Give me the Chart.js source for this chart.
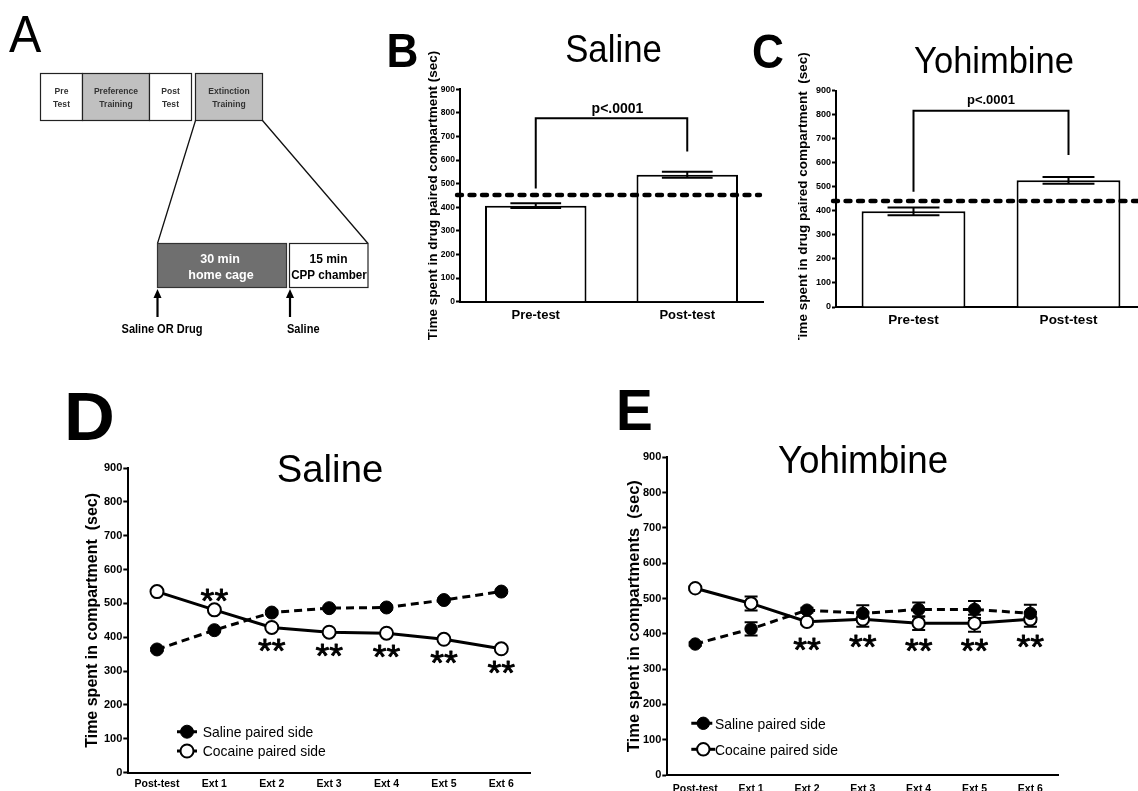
<!DOCTYPE html>
<html>
<head>
<meta charset="utf-8">
<script src="https://cdn.jsdelivr.net/npm/chart.js@4.4.1/dist/chart.umd.min.js"></script>
<style>
  html, body { margin: 0; padding: 0; background: #fff; overflow: hidden; width: 1138px; height: 791px; }
  canvas { position: absolute; }
</style>
</head>
<body>
<canvas id="bg" width="1138" height="791" style="left:0;top:0"></canvas>
<canvas id="chartB" width="390" height="340" style="left:380px;top:0"></canvas>
<canvas id="chartC" width="400" height="340" style="left:760px;top:0"></canvas>
<canvas id="chartD" width="480" height="351" style="left:60px;top:440px"></canvas>
<canvas id="chartE" width="480" height="351" style="left:590px;top:440px"></canvas>
<script>
// ---- data ----
const testLabels = ['Pre-test', 'Post-test'];

// B: saline group, time in drug-paired compartment
const salineTestMeans = [407, 538];
const salineTestSem = [10, 13];
const salineChance = 452;
const salineBracket = [777, 480, 636];   // bar height, left leg end, right leg end

// C: yohimbine group
const yohTestMeans = [398, 527];
const yohTestSem = [16, 14];
const yohChance = 441;
const yohBracket = [817, 480, 632];

const pLabel = 'p<.0001';

// D / E: extinction sessions
const sessionLabels = ['Post-test', 'Ext 1', 'Ext 2', 'Ext 3', 'Ext 4', 'Ext 5', 'Ext 6'];

const salGrpSalineSide  = [364, 421, 473, 486, 488, 510, 535];
const salGrpCocaineSide = [535, 481, 429, 415, 412, 394, 366];
const salGrpSalineSem   = [4, 5, 5, 4, 5, 5, 4];
const salGrpCocaineSem  = [4, 5, 5, 4, 5, 5, 4];
const salGrpStars = ['', 'above', 'below', 'below', 'below', 'below', 'below'];

const yohGrpSalineSide  = [371, 414, 467, 458, 469, 469, 458];
const yohGrpCocaineSide = [529, 486, 434, 441, 430, 430, 441];
const yohGrpSalineSem   = [5, 19, 7, 23, 20, 24, 24];
const yohGrpCocaineSem  = [5, 20, 7, 21, 19, 24, 21];
const yohGrpStars = ['', '', 'below', 'below', 'below', 'below', 'below'];

const seriesNames = ['Saline paired side', 'Cocaine paired side'];

// ---- helpers ----
const FONT = "'Liberation Sans', Arial, Helvetica, sans-serif";

function text(ctx, s, x, y, size, o = {}) {
  const { bold = false, align = 'left', sx = 1, color = '#000', baseline = 'alphabetic', stroke = 0 } = o;
  ctx.save();
  ctx.font = (bold ? 'bold ' : '') + size + 'px ' + FONT;
  ctx.fillStyle = color;
  ctx.textAlign = align;
  ctx.textBaseline = baseline;
  ctx.translate(x, y);
  ctx.scale(sx, 1);
  ctx.fillText(s, 0, 0);
  if (stroke) {
    ctx.strokeStyle = color;
    ctx.lineWidth = stroke;
    ctx.lineJoin = 'round';
    ctx.strokeText(s, 0, 0);
  }
  ctx.restore();
}

// ---- background: protocol diagram, panel letters, panel titles ----
(function drawBackground() {
  const ctx = document.getElementById('bg').getContext('2d');
  ctx.fillStyle = '#fff';
  ctx.fillRect(0, 0, 1138, 791);

  // protocol timeline
  const rowTop = 73.5, rowBot = 120.5;
  const stages = [
    { x0: 40.5,  x1: 82.5,  fill: '#fff',    lines: ['Pre', 'Test'] },
    { x0: 82.5,  x1: 149.5, fill: '#c0c0c0', lines: ['Preference', 'Training'] },
    { x0: 149.5, x1: 191.5, fill: '#fff',    lines: ['Post', 'Test'] },
    { x0: 195.5, x1: 262.5, fill: '#c0c0c0', lines: ['Extinction', 'Training'] }
  ];
  ctx.lineWidth = 1.2;
  ctx.strokeStyle = '#222';
  stages.forEach(s => {
    ctx.fillStyle = s.fill;
    ctx.fillRect(s.x0, rowTop, s.x1 - s.x0, rowBot - rowTop);
    ctx.strokeRect(s.x0, rowTop, s.x1 - s.x0, rowBot - rowTop);
    const cx = (s.x0 + s.x1) / 2;
    text(ctx, s.lines[0], cx, 94, 9, { bold: true, align: 'center', color: '#333', sx: 0.95 });
    text(ctx, s.lines[1], cx, 106.5, 9, { bold: true, align: 'center', color: '#333', sx: 0.95 });
  });

  // zoom-in lines to the extinction session detail
  ctx.beginPath();
  ctx.moveTo(195.5, rowBot); ctx.lineTo(157.5, 243.5);
  ctx.moveTo(262.5, rowBot); ctx.lineTo(368, 243.5);
  ctx.lineWidth = 1.3;
  ctx.strokeStyle = '#111';
  ctx.stroke();

  // session detail boxes
  ctx.fillStyle = '#6f6f6f';
  ctx.fillRect(157.5, 243.5, 129, 44);
  ctx.lineWidth = 1.2;
  ctx.strokeStyle = '#333';
  ctx.strokeRect(157.5, 243.5, 129, 44);
  text(ctx, '30 min', 220, 262.5, 12.5, { bold: true, align: 'center', color: '#fff' });
  text(ctx, 'home cage', 221, 278.5, 12.5, { bold: true, align: 'center', color: '#fff' });

  ctx.fillStyle = '#fff';
  ctx.fillRect(289.5, 243.5, 78.5, 44);
  ctx.strokeStyle = '#222';
  ctx.strokeRect(289.5, 243.5, 78.5, 44);
  text(ctx, '15 min', 328.5, 262.5, 12, { bold: true, align: 'center' });
  text(ctx, 'CPP chamber', 329, 278.5, 12, { bold: true, align: 'center', sx: 0.97 });

  // injection arrows
  [157.5, 290].forEach(x => {
    ctx.beginPath();
    ctx.moveTo(x, 317); ctx.lineTo(x, 295);
    ctx.lineWidth = 2.2; ctx.strokeStyle = '#000'; ctx.stroke();
    ctx.beginPath();
    ctx.moveTo(x, 289); ctx.lineTo(x - 4, 298); ctx.lineTo(x + 4, 298); ctx.closePath();
    ctx.fillStyle = '#000'; ctx.fill();
  });
  text(ctx, 'Saline OR Drug', 162, 333, 12, { bold: true, align: 'center', sx: 0.92 });
  text(ctx, 'Saline', 287, 333, 12, { bold: true, sx: 0.92 });

  // panel letters
  text(ctx, 'A', 9, 51.7, 51, { sx: 0.95 });
  text(ctx, 'B', 386.5, 66.7, 48, { bold: true, sx: 0.92 });
  text(ctx, 'C', 752, 68.3, 48, { bold: true, sx: 0.92 });
  text(ctx, 'D', 64, 440, 69, { bold: true, sx: 1.02 });
  text(ctx, 'E', 616, 430, 58, { bold: true, sx: 0.95 });

  // panel titles
  text(ctx, 'Saline', 613.5, 61.7, 39.5, { align: 'center', sx: 0.88 });
  text(ctx, 'Yohimbine', 994, 72.7, 36.3, { align: 'center', sx: 0.95 });
  text(ctx, 'Saline', 330, 481.7, 39.5, { align: 'center', sx: 0.97 });
  text(ctx, 'Yohimbine', 863, 473.3, 39.5, { align: 'center', sx: 0.93 });
})();

// ---- shared axis styling ----
function yAxis(title, tickSize, titleSize, width, tickLen) {
  return {
    min: 0, max: 900,
    ticks: { stepSize: 100, color: '#000', padding: 1, font: { family: FONT, size: tickSize, weight: 'bold' } },
    grid: { drawOnChartArea: false, tickLength: tickLen, tickColor: '#000', tickWidth: 2 },
    border: { color: '#000', width: 2 },
    title: { display: true, text: title, color: '#000', padding: 0, font: { family: FONT, size: titleSize, weight: 'bold' } },
    afterFit: s => { s.width = width; }
  };
}
function xAxis(fontSize, pad, height, offset) {
  return {
    offset: offset,
    grid: { display: false, drawTicks: false, tickLength: 0 },
    border: { color: '#000', width: 2 },
    ticks: { color: '#000', padding: pad, maxRotation: 0, autoSkip: false, font: { family: FONT, size: fontSize, weight: 'bold' } },
    afterFit: s => { s.height = height; }
  };
}

// ---- B / C: pre vs post test bars ----
function prePostChart(id, means, sem, chance, bracket, yTitle, geo) {
  const annotate = {
    id: 'prePostMarks',
    afterDatasetsDraw(chart) {
      const { ctx, chartArea, scales: { x, y } } = chart;
      const meta = chart.getDatasetMeta(0);
      ctx.save();
      // SEM bars
      ctx.strokeStyle = '#000';
      ctx.lineWidth = 2;
      means.forEach((m, i) => {
        const el = meta.data[i];
        const hw = el.width * 0.25;
        const t = y.getPixelForValue(m + sem[i]);
        const b = y.getPixelForValue(m - sem[i]);
        ctx.beginPath();
        ctx.moveTo(el.x, t); ctx.lineTo(el.x, b);
        ctx.moveTo(el.x - hw, t); ctx.lineTo(el.x + hw, t);
        ctx.moveTo(el.x - hw, b); ctx.lineTo(el.x + hw, b);
        ctx.stroke();
      });
      // chance level
      const cy = y.getPixelForValue(chance);
      ctx.beginPath();
      ctx.setLineDash([5, 7.5]);
      ctx.lineCap = 'round';
      ctx.lineWidth = 4.4;
      ctx.moveTo(chartArea.left - 3, cy);
      ctx.lineTo(chartArea.right - 3, cy);
      ctx.stroke();
      ctx.setLineDash([]);
      ctx.lineCap = 'butt';
      // significance bracket
      const xl = x.getPixelForValue(0), xr = x.getPixelForValue(1);
      const top = y.getPixelForValue(bracket[0]);
      ctx.lineWidth = 2;
      ctx.beginPath();
      ctx.moveTo(xl, y.getPixelForValue(bracket[1]));
      ctx.lineTo(xl, top);
      ctx.lineTo(xr, top);
      ctx.lineTo(xr, y.getPixelForValue(bracket[2]));
      ctx.stroke();
      text(ctx, pLabel, (xl + xr) / 2 + geo.pShift, top - geo.pGap, geo.pSize, { bold: true, align: 'center' });
      ctx.restore();
    }
  };
  return new Chart(document.getElementById(id), {
    type: 'bar',
    data: {
      labels: testLabels,
      datasets: [{
        data: means, backgroundColor: '#fff', borderColor: '#000', borderWidth: 2,
        barPercentage: 0.67, categoryPercentage: 1
      }]
    },
    options: {
      responsive: false, animation: false, devicePixelRatio: 1,
      layout: { padding: { left: geo.padLeft, top: geo.padTop, right: geo.padRight, bottom: 0 } },
      scales: {
        x: xAxis(geo.xFont, geo.xPad, geo.xHeight, true),
        y: yAxis(yTitle, geo.yFont, geo.titleFont, geo.yWidth, 4)
      },
      plugins: { legend: { display: false }, tooltip: { enabled: false } }
    },
    plugins: [annotate]
  });
}

prePostChart('chartB', salineTestMeans, salineTestSem, salineChance, salineBracket,
  'Time spent in drug paired compartment (sec)',
  { padLeft: 44.9, padTop: 89.3, padRight: 7, yWidth: 35.1, xHeight: 38.3, xFont: 13, xPad: 5.5,
    yFont: 8.5, titleFont: 13.5, pSize: 14, pGap: 5, pShift: 6 });

prePostChart('chartC', yohTestMeans, yohTestSem, yohChance, yohBracket,
  'Time spent in drug paired compartment  (sec)',
  { padLeft: 34.9, padTop: 90.7, padRight: 14, yWidth: 41.1, xHeight: 33, xFont: 13.5, xPad: 5.2,
    yFont: 9, titleFont: 13.5, pSize: 13, pGap: 7, pShift: 0 });

// ---- D / E: extinction time course ----
function sessionChart(id, salineSide, cocaineSide, salineSem, cocaineSem, stars, yTitle, geo) {
  const sems = [salineSem, cocaineSem];
  const marks = {
    id: 'sessionMarks',
    beforeDatasetsDraw(chart) {
      const { ctx, scales: { y } } = chart;
      ctx.save();
      ctx.strokeStyle = '#000';
      ctx.lineWidth = 2;
      chart.data.datasets.forEach((ds, d) => {
        const meta = chart.getDatasetMeta(d);
        ds.data.forEach((v, i) => {
          const px = meta.data[i].x;
          const t = y.getPixelForValue(v + sems[d][i]);
          const b = y.getPixelForValue(v - sems[d][i]);
          ctx.beginPath();
          ctx.moveTo(px, t); ctx.lineTo(px, b);
          ctx.moveTo(px - 6.5, t); ctx.lineTo(px + 6.5, t);
          ctx.moveTo(px - 6.5, b); ctx.lineTo(px + 6.5, b);
          ctx.stroke();
        });
      });
      ctx.restore();
    },
    afterDatasetsDraw(chart) {
      const { ctx, chartArea } = chart;
      const coc = chart.getDatasetMeta(1);
      ctx.save();
      // significance stars
      stars.forEach((where, i) => {
        if (!where) return;
        const p = coc.data[i];
        const cy = where === 'above' ? p.y - geo.starAbove : p.y + geo.starGap;
        text(ctx, '**', p.x, cy + 0.585 * 34, 34, { align: 'center', sx: 1.04, stroke: 0.9 });
      });
      // series key
      chart.data.datasets.forEach((ds, d) => {
        const mx = chartArea.left + geo.keyX;
        const my = chartArea.bottom - geo.keyRows[d];
        ctx.beginPath();
        ctx.setLineDash(ds.borderDash || []);
        ctx.lineWidth = 3;
        ctx.strokeStyle = '#000';
        ctx.moveTo(mx - geo.keyHalf, my);
        ctx.lineTo(mx + geo.keyHalf, my);
        ctx.stroke();
        ctx.setLineDash([]);
        ctx.beginPath();
        ctx.arc(mx, my, ds.pointRadius, 0, Math.PI * 2);
        ctx.fillStyle = ds.pointBackgroundColor;
        ctx.fill();
        ctx.lineWidth = ds.pointBorderWidth;
        ctx.stroke();
        text(ctx, ds.label, mx + geo.keyText, my + 5.2, 14.5, { sx: 0.96 });
      });
      ctx.restore();
    }
  };
  return new Chart(document.getElementById(id), {
    type: 'line',
    data: {
      labels: sessionLabels,
      datasets: [
        { label: seriesNames[0], data: salineSide, borderColor: '#000', borderWidth: 3, borderDash: [8, 5],
          pointRadius: geo.r, pointBackgroundColor: '#000', pointBorderColor: '#000', pointBorderWidth: 1,
          tension: 0, fill: false },
        { label: seriesNames[1], data: cocaineSide, borderColor: '#000', borderWidth: 3,
          pointRadius: geo.r, pointBackgroundColor: '#fff', pointBorderColor: '#000', pointBorderWidth: 2,
          tension: 0, fill: false }
      ]
    },
    options: {
      responsive: false, animation: false, devicePixelRatio: 1,
      layout: { padding: { left: geo.padLeft, top: geo.padTop, right: geo.padRight, bottom: 0 } },
      scales: {
        x: xAxis(10.5, geo.xPad, geo.xHeight, true),
        y: yAxis(yTitle, 11, geo.titleFont, geo.yWidth, 5)
      },
      plugins: { legend: { display: false }, tooltip: { enabled: false } }
    },
    plugins: [marks]
  });
}

sessionChart('chartD', salGrpSalineSide, salGrpCocaineSide, salGrpSalineSem, salGrpCocaineSem, salGrpStars,
  'Time spent in compartment  (sec)',
  { padLeft: 23.4, padTop: 28, padRight: 10, yWidth: 44.9, xHeight: 18.3, xPad: 4.7, r: 6.5, titleFont: 16,
    starGap: 15, starAbove: 18, keyX: 58.7, keyRows: [41, 21.7], keyHalf: 10, keyText: 15.7 });

sessionChart('chartE', yohGrpSalineSide, yohGrpCocaineSide, yohGrpSalineSem, yohGrpCocaineSem, yohGrpStars,
  'Time spent in compartments  (sec)',
  { padLeft: 35, padTop: 17.3, padRight: 11.7, yWidth: 42.3, xHeight: 16, xPad: 8, r: 6.2, titleFont: 16.5,
    starGap: 19, starAbove: 22, keyX: 36, keyRows: [51.7, 25.7], keyHalf: 12, keyText: 11.7 });
</script>
</body>
</html>
